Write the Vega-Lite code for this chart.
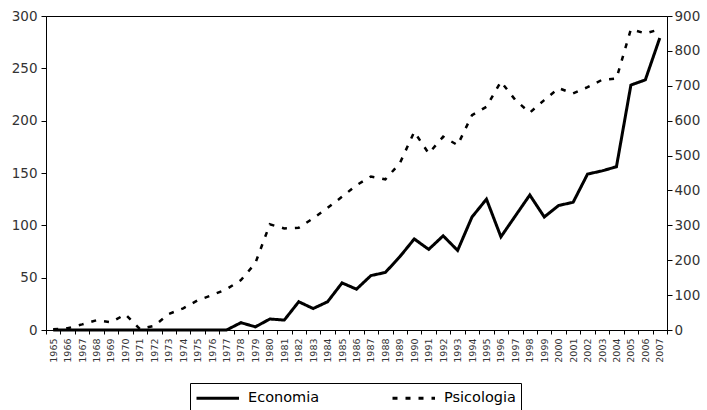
{
  "$schema": "https://vega.github.io/schema/vega-lite/v6.json",
  "width": 621,
  "height": 314,
  "autosize": "none",
  "padding": {"left": 46, "top": 16, "right": 40, "bottom": 80},
  "config": {
    "font": "DejaVu Sans",
    "view": {"stroke": "black", "strokeWidth": 1},
    "axis": {
      "domainColor": "black",
      "tickColor": "black",
      "labelColor": "#333333",
      "grid": false,
      "title": null
    }
  },
  "data": {
    "values": [
      {"year": 1965, "Economia": 0, "Psicologia": 2},
      {"year": 1966, "Economia": 0, "Psicologia": 5},
      {"year": 1967, "Economia": 0, "Psicologia": 16},
      {"year": 1968, "Economia": 0, "Psicologia": 28},
      {"year": 1969, "Economia": 0, "Psicologia": 22},
      {"year": 1970, "Economia": 0, "Psicologia": 45},
      {"year": 1971, "Economia": 0, "Psicologia": 3},
      {"year": 1972, "Economia": 0, "Psicologia": 12},
      {"year": 1973, "Economia": 0, "Psicologia": 46},
      {"year": 1974, "Economia": 0, "Psicologia": 62},
      {"year": 1975, "Economia": 0, "Psicologia": 85},
      {"year": 1976, "Economia": 0, "Psicologia": 100},
      {"year": 1977, "Economia": 0, "Psicologia": 117},
      {"year": 1978, "Economia": 7, "Psicologia": 143},
      {"year": 1979, "Economia": 3, "Psicologia": 192},
      {"year": 1980, "Economia": 10.5, "Psicologia": 303},
      {"year": 1981, "Economia": 9.5, "Psicologia": 291},
      {"year": 1982, "Economia": 27, "Psicologia": 293},
      {"year": 1983, "Economia": 20.5, "Psicologia": 320},
      {"year": 1984, "Economia": 27, "Psicologia": 350},
      {"year": 1985, "Economia": 45, "Psicologia": 382},
      {"year": 1986, "Economia": 39, "Psicologia": 415},
      {"year": 1987, "Economia": 52, "Psicologia": 440},
      {"year": 1988, "Economia": 55, "Psicologia": 432},
      {"year": 1989, "Economia": 70, "Psicologia": 478},
      {"year": 1990, "Economia": 87, "Psicologia": 568},
      {"year": 1991, "Economia": 77, "Psicologia": 506},
      {"year": 1992, "Economia": 90, "Psicologia": 554},
      {"year": 1993, "Economia": 76, "Psicologia": 530},
      {"year": 1994, "Economia": 108, "Psicologia": 616},
      {"year": 1995, "Economia": 125, "Psicologia": 640},
      {"year": 1996, "Economia": 89, "Psicologia": 712},
      {"year": 1997, "Economia": 109, "Psicologia": 659},
      {"year": 1998, "Economia": 129, "Psicologia": 623},
      {"year": 1999, "Economia": 108, "Psicologia": 659},
      {"year": 2000, "Economia": 119, "Psicologia": 693},
      {"year": 2001, "Economia": 122, "Psicologia": 678},
      {"year": 2002, "Economia": 149, "Psicologia": 696},
      {"year": 2003, "Economia": 152, "Psicologia": 717},
      {"year": 2004, "Economia": 156, "Psicologia": 721},
      {"year": 2005, "Economia": 234, "Psicologia": 862},
      {"year": 2006, "Economia": 239, "Psicologia": 850},
      {"year": 2007, "Economia": 279, "Psicologia": 862}
    ]
  },
  "encoding": {
    "x": {
      "field": "year",
      "type": "ordinal",
      "bandPosition": 0.5,
      "scale": {"type": "band", "paddingInner": 0, "paddingOuter": 0},
      "axis": {
        "labelAngle": 270,
        "labelFontSize": 9.5,
        "tickBand": "extent",
        "tickSize": 4,
        "labelPadding": 4,
        "domainWidth": 1
      }
    }
  },
  "layer": [
    {
      "mark": {"type": "line", "color": "black", "strokeWidth": 3},
      "encoding": {
        "y": {
          "field": "Economia",
          "type": "quantitative",
          "scale": {"domain": [0, 300]},
          "axis": {
            "orient": "left",
            "values": [0, 50, 100, 150, 200, 250, 300],
            "tickSize": 5,
            "labelPadding": 4,
            "labelFontSize": 13.5
          }
        },
        "strokeDash": {
          "datum": "Economia",
          "type": "nominal",
          "scale": {"domain": ["Economia", "Psicologia"], "range": [[1, 0], [5, 8]]},
          "legend": {
            "title": null,
            "orient": "none",
            "legendX": 144,
            "legendY": 367,
            "direction": "horizontal",
            "strokeColor": "black",
            "fillColor": "white",
            "padding": 5,
            "symbolType": "M-1,0H4",
            "symbolSize": 289,
            "symbolStrokeWidth": 3,
            "symbolStrokeColor": "black",
            "labelFontSize": 14.5,
            "labelColor": "black",
            "labelOffset": 33,
            "columnPadding": 66
          }
        }
      }
    },
    {
      "mark": {"type": "line", "color": "black", "strokeWidth": 2.5},
      "encoding": {
        "y": {
          "field": "Psicologia",
          "type": "quantitative",
          "scale": {"domain": [0, 900]},
          "axis": {
            "orient": "right",
            "values": [0, 100, 200, 300, 400, 500, 600, 700, 800, 900],
            "tickSize": 5,
            "labelPadding": 2,
            "labelFontSize": 13.5
          }
        },
        "strokeDash": {"datum": "Psicologia", "type": "nominal"}
      }
    }
  ],
  "resolve": {"scale": {"y": "independent"}}
}
